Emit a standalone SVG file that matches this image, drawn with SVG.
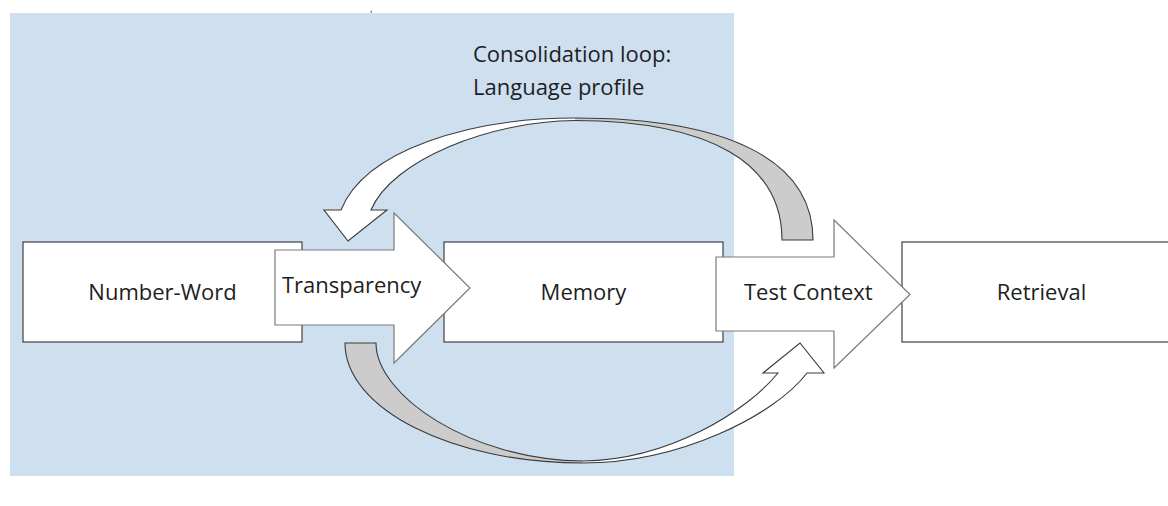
<svg xmlns="http://www.w3.org/2000/svg" width="1168" height="506" viewBox="0 0 1168 506">
  <style>
    .bg { fill: #cedff0; }
    .box { fill: #ffffff; stroke: #404040; stroke-width: 1.2; }
    .block { fill: #ffffff; stroke: #7a7a7a; stroke-width: 1.2; stroke-linejoin: miter; }
    .front { fill: #ffffff; stroke: none; }
    .back { fill: #cccccc; stroke: none; }
    .edge { fill: none; stroke: #3a3a3a; stroke-width: 1.1; stroke-linejoin: miter; }
    .lbl { font-family: "Open Sans", "Noto Sans", "Liberation Sans", sans-serif; font-size: 22px; fill: #1e1e1e; }
    .mid { text-anchor: middle; }
  </style>

  <!-- shaded region behind the first stages -->
  <rect class="bg" x="10" y="13" width="724" height="463"/>
  <rect x="370.5" y="10.5" width="1.5" height="2.5" fill="#9a9a9a"/>

  <!-- stage boxes -->
  <g id="number-word">
    <rect class="box" x="23" y="242" width="279" height="100"/>
    <text class="lbl mid" x="162.5" y="300">Number-Word</text>
  </g>
  <g id="memory">
    <rect class="box" x="444" y="242" width="279" height="100"/>
    <text class="lbl mid" x="583.5" y="300">Memory</text>
  </g>
  <g id="retrieval">
    <rect class="box" x="902" y="242" width="279" height="100"/>
    <text class="lbl mid" x="1041.5" y="300">Retrieval</text>
  </g>

  <g id="connectors">
    <!-- block arrow: Number-Word to Memory -->
    <g id="transparency">
      <path class="block" d="M275,250 H394 V213 L470,288 L394,363 V325 H275 Z"/>
      <text class="lbl" x="282" y="293">Transparency</text>
    </g>
    <!-- block arrow: Memory to Retrieval -->
    <g id="test-context">
      <path class="block" d="M716,257 H834 V220 L910,294.5 L834,368 V331 H716 Z"/>
      <text class="lbl" x="744" y="299.5">Test Context</text>
    </g>

    <!-- upper loop: tail on the right, head pointing down at the left -->
    <g id="consolidation-loop">
      <path class="back" d="M575,118 C730,118 813,161 813,240 L782,240 C782,163 710,121 575,120.5 Z"/>
      <path class="front" d="M348,241 L387,210 L371,210 C392,160 490,121 575,120.5 L575,118 C470,118 365,150 341,210 L324,210 Z"/>
      <path class="edge" d="M341,210 C365,150 470,118 575,118 C730,118 813,161 813,240 L782,240 C782,163 710,121 575,120.5 C490,121 392,160 371,210 L387,210 L348,241 L324,210 Z"/>
    </g>

    <!-- lower loop: tail on the left, head pointing up at the right -->
    <g id="return-loop">
      <path class="back" d="M345,343 L376,343 C376,395 470,460 583,461 L583,463 C452,463 345,409 345,343 Z"/>
      <path class="front" d="M583,461 C670,460 748,410 778,373 L763,373 L800,343 L824,373 L807,373 C775,415 680,463 583,463 Z"/>
      <path class="edge" d="M345,343 L376,343 C376,395 470,460 583,461 C670,460 748,410 778,373 L763,373 L800,343 L824,373 L807,373 C775,415 680,463 583,463 C452,463 345,409 345,343 Z"/>
    </g>

    <text class="lbl" x="473" y="62">Consolidation loop:</text>
    <text class="lbl" x="473" y="95">Language profile</text>
  </g>
</svg>
